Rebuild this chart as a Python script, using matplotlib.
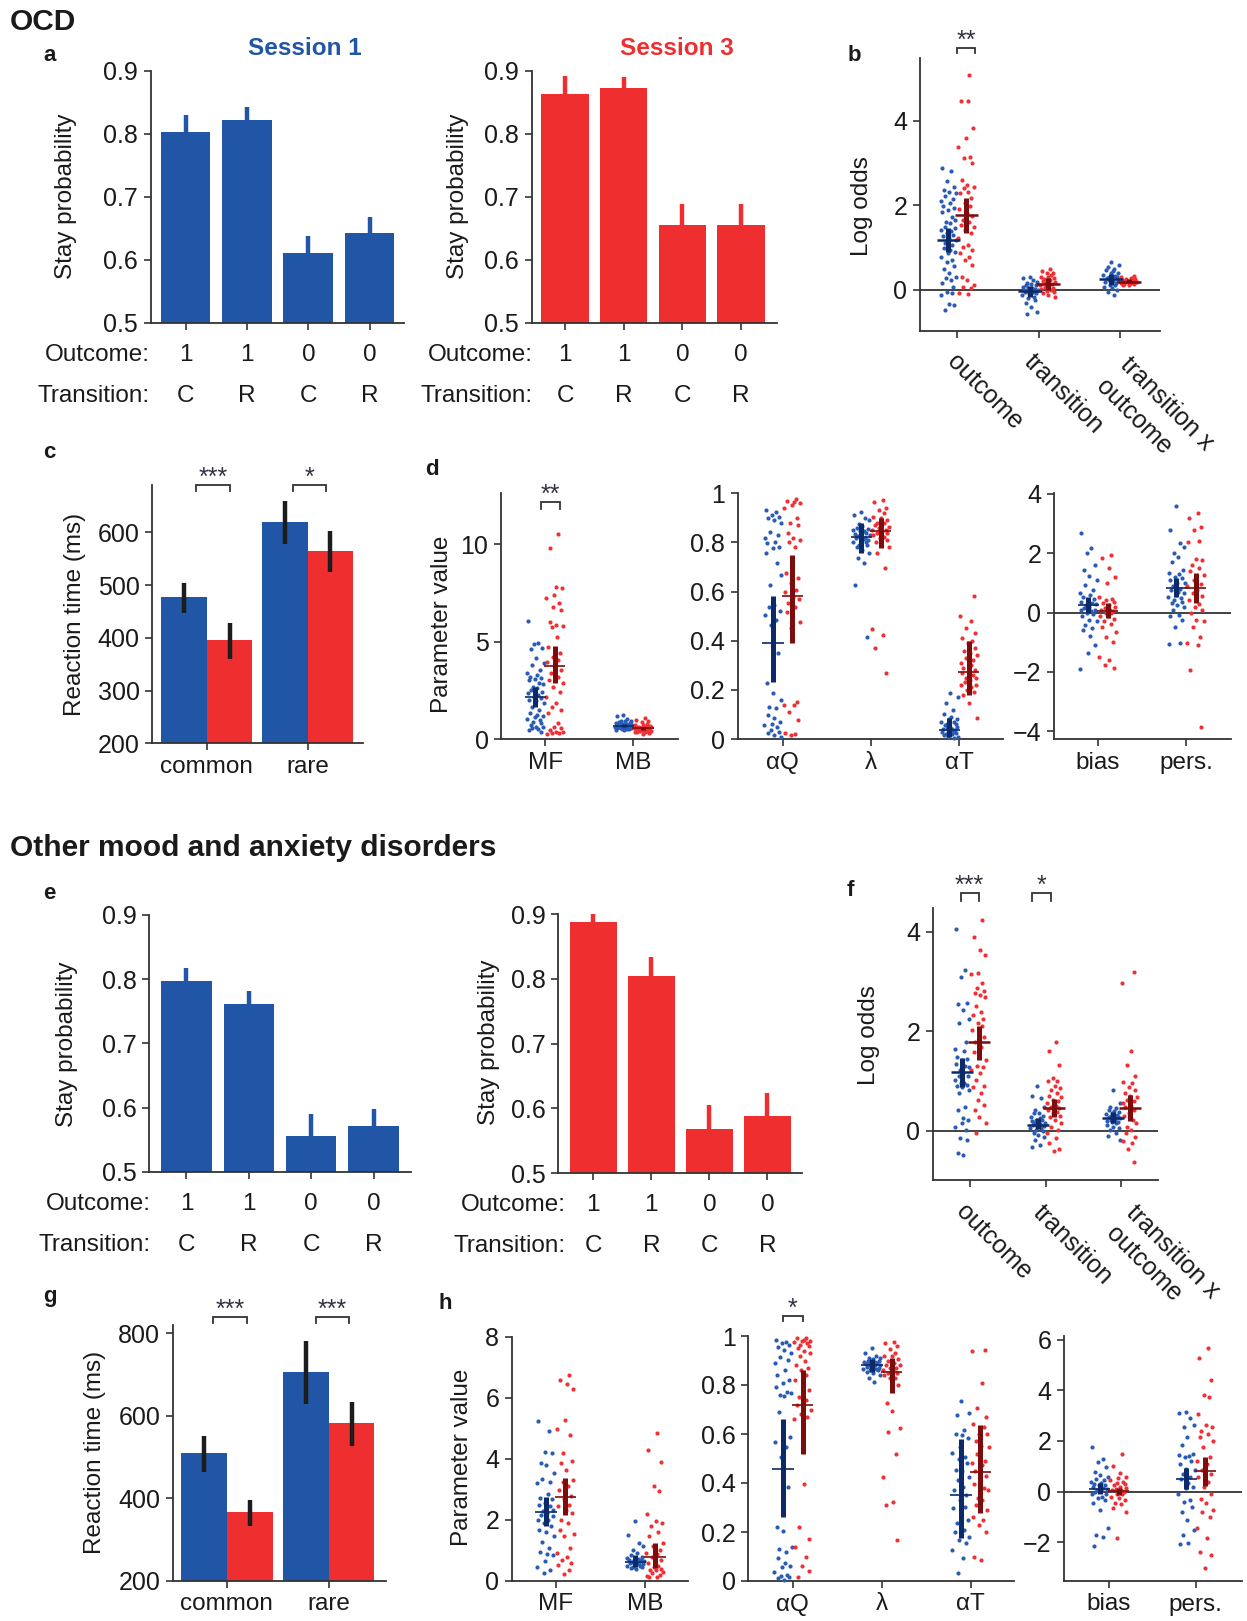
import matplotlib
matplotlib.use("Agg")
import matplotlib.pyplot as plt
from matplotlib.transforms import blended_transform_factory
from matplotlib.ticker import FormatStrFormatter

plt.rcParams['font.family'] = ['Liberation Sans', 'DejaVu Sans']

W, H = 1247, 1621
BLUE = '#2155a6'
RED = '#ee2e2f'
DOT_BLUE = '#2b5cb4'
DOT_RED = '#ef3034'
DBLUE = '#0c2a68'
DRED = '#7d0c0c'
AX_COL = '#333333'
TXT = '#1a1a1a'

# ---------------- data ----------------
OUTCOME = ['1', '1', '0', '0']
TRANSITION = ['C', 'R', 'C', 'R']

# stay probabilities (bar value, top of error bar)
a_s1 = [0.803, 0.821, 0.610, 0.642]
a_s1_hi = [0.829, 0.842, 0.638, 0.668]
a_s3 = [0.8635, 0.8725, 0.6545, 0.6545]
a_s3_hi = [0.892, 0.890, 0.688, 0.688]
e_s1 = [0.797, 0.761, 0.556, 0.571]
e_s1_hi = [0.817, 0.782, 0.590, 0.597]
e_s3 = [0.888, 0.804, 0.569, 0.588]
e_s3_hi = [0.900, 0.833, 0.605, 0.624]

# reaction times
RT_CATS = ['common', 'rare']
c_s1 = [476.6, 619.6]
c_s1_lo = [446.8, 579.0]
c_s1_hi = [505.0, 658.9]
c_s3 = [396.0, 565.2]
c_s3_lo = [360.8, 524.7]
c_s3_hi = [427.8, 601.9]
g_s1 = [509.5, 705.0]
g_s1_lo = [463.4, 629.1]
g_s1_hi = [552.3, 780.2]
g_s3 = [366.5, 582.2]
g_s3_lo = [333.3, 527.3]
g_s3_hi = [396.4, 634.7]

# logistic regression log odds
LOGODDS_CATS = ['outcome', 'transition', 'transition x', 'outcome']
b_s1_outcome = [2.88, 2.82, 2.58, 2.43, 2.36, 2.32, 2.28, 2.22, 2.14, 2.10, 2.05, 1.97, 1.93, 1.88, 1.83,
                1.73, 1.65, 1.61, 1.57, 1.49, 1.45, 1.42, 1.38, 1.34, 1.30, 1.26, 1.22, 1.18, 1.10, 1.05,
                0.98, 0.94, 0.90, 0.86, 0.78, 0.70, 0.66, 0.55, 0.48, 0.39, 0.31, 0.27, 0.23, 0.15, 0.07,
                -0.05, -0.09, -0.13, -0.34, -0.36, -0.48]
b_s3_outcome = [5.09, 4.48, 4.46, 3.83, 3.59, 3.39, 3.15, 3.11, 3.00, 2.60, 2.48, 2.44, 2.40, 2.32, 2.28,
                2.17, 2.05, 1.97, 1.90, 1.81, 1.75, 1.65, 1.60, 1.53, 1.48, 1.42, 1.34, 1.22, 1.06, 1.02,
                0.95, 0.86, 0.78, 0.70, 0.58, 0.31, 0.23, 0.11, 0.07, 0.05, -0.09, -0.10]
b_s1_transition = [0.31, 0.27, 0.22, 0.19, 0.15, 0.13, 0.11, 0.10, 0.07, 0.05, 0.03, 0.02, 0.00, -0.01, -0.02,
                   -0.03, -0.05, -0.06, -0.08, -0.09, -0.11, -0.13, -0.17, -0.20, -0.25, -0.32, -0.40, -0.52, -0.58]
b_s3_transition = [0.48, 0.43, 0.40, 0.39, 0.35, 0.31, 0.30, 0.28, 0.25, 0.23, 0.20, 0.18, 0.15, 0.14, 0.12,
                   0.10, 0.07, 0.05, 0.02, -0.01, -0.03, -0.05, -0.09, -0.13, -0.18]
b_s1_interaction = [0.66, 0.58, 0.54, 0.50, 0.47, 0.44, 0.40, 0.39, 0.35, 0.33, 0.31, 0.30, 0.28, 0.25, 0.23,
                    0.22, 0.20, 0.18, 0.15, 0.12, 0.10, 0.07, 0.05, -0.01, -0.05, -0.13]
b_s3_interaction = [0.32, 0.29, 0.27, 0.25, 0.24, 0.23, 0.22, 0.21, 0.21, 0.20, 0.19, 0.19, 0.18, 0.17, 0.16,
                    0.15, 0.14, 0.13, 0.12, 0.11]
b_mean_s1 = [1.18, -0.03, 0.24]
b_lo_s1 = [0.90, -0.18, 0.12]
b_hi_s1 = [1.45, 0.09, 0.38]
b_mean_s3 = [1.77, 0.13, 0.19]
b_lo_s3 = [1.33, 0.00, 0.15]
b_hi_s3 = [2.17, 0.27, 0.24]

f_s1_outcome = [4.05, 3.23, 3.08, 2.57, 2.55, 2.43, 2.24, 2.16, 1.79, 1.65, 1.60, 1.49, 1.45, 1.42, 1.35,
                1.30, 1.29, 1.22, 1.15, 1.10, 1.09, 1.02, 0.95, 0.95, 0.92, 0.90, 0.88, 0.82, 0.75, 0.48,
                0.42, 0.25, 0.21, 0.15, 0.08, 0.01, -0.15, -0.19, -0.44, -0.49]
f_s3_outcome = [4.23, 3.90, 3.64, 3.53, 3.16, 3.15, 2.97, 2.86, 2.80, 2.76, 2.72, 2.69, 2.50, 2.39, 2.32,
                2.24, 2.16, 2.10, 2.02, 1.95, 1.89, 1.79, 1.69, 1.59, 1.42, 1.30, 1.29, 1.22, 1.15, 1.02,
                0.90, 0.88, 0.75, 0.62, 0.52, 0.42, 0.28, 0.15, -0.05]
f_s1_transition = [0.90, 0.70, 0.65, 0.48, 0.42, 0.35, 0.35, 0.30, 0.28, 0.25, 0.22, 0.21, 0.20, 0.18, 0.16,
                   0.15, 0.14, 0.12, 0.11, 0.10, 0.08, 0.06, 0.05, 0.01, 0.00, -0.05, -0.08, -0.12, -0.19,
                   -0.29, -0.33]
f_s3_transition = [1.79, 1.60, 1.32, 1.06, 1.00, 0.99, 0.90, 0.85, 0.82, 0.75, 0.70, 0.68, 0.62, 0.60, 0.55,
                   0.50, 0.48, 0.45, 0.42, 0.38, 0.35, 0.30, 0.28, 0.21, 0.15, 0.08, 0.01, -0.05, -0.15,
                   -0.25, -0.36, -0.40]
f_s1_interaction = [0.82, 0.55, 0.48, 0.45, 0.42, 0.40, 0.38, 0.35, 0.33, 0.32, 0.30, 0.28, 0.28, 0.26, 0.25,
                    0.22, 0.21, 0.20, 0.18, 0.17, 0.15, 0.12, 0.08, 0.05, 0.01, -0.05, -0.10, -0.19]
f_s3_interaction = [3.18, 2.96, 1.60, 1.33, 1.10, 0.97, 0.95, 0.88, 0.82, 0.75, 0.70, 0.68, 0.62, 0.60, 0.55,
                    0.50, 0.48, 0.42, 0.35, 0.30, 0.21, 0.15, 0.08, 0.01, -0.05, -0.12, -0.20, -0.25,
                    -0.36, -0.62]
f_mean_s1 = [1.17, 0.12, 0.26]
f_lo_s1 = [0.88, 0.03, 0.15]
f_hi_s1 = [1.47, 0.25, 0.38]
f_mean_s3 = [1.78, 0.45, 0.45]
f_lo_s3 = [1.42, 0.28, 0.19]
f_hi_s3 = [2.11, 0.63, 0.72]

# model parameters: MF, MB | aQ, lambda, aT | bias, pers.
PARAM_CATS_1 = ['MF', 'MB']
PARAM_CATS_2 = ['αQ', 'λ', 'αT']
PARAM_CATS_3 = ['bias', 'pers.']

d_s1_mf = [6.06, 4.91, 4.88, 4.66, 4.61, 4.14, 3.92, 3.80, 3.54, 3.37, 3.29, 3.20, 3.12, 3.10, 3.03,
           2.86, 2.80, 2.69, 2.60, 2.52, 2.40, 2.35, 2.25, 2.17, 2.10, 2.00, 1.95, 1.83, 1.66, 1.49,
           1.32, 1.23, 1.20, 1.15, 1.05, 0.98, 0.89, 0.80, 0.72, 0.63, 0.60, 0.55, 0.50, 0.46, 0.38]
d_s3_mf = [10.51, 9.79, 7.83, 7.74, 7.40, 7.23, 6.97, 6.80, 6.63, 6.03, 5.86, 5.80, 5.77, 5.26, 4.74,
           4.40, 4.20, 4.06, 3.97, 3.80, 3.54, 3.37, 3.20, 3.03, 2.90, 2.69, 2.43, 2.17, 1.83, 1.66,
           1.50, 1.32, 0.80, 0.63, 0.55, 0.46, 0.38, 0.35, 0.30, 0.29, 0.25]
d_s1_mb = [1.25, 1.20, 1.05, 0.95, 0.90, 0.90, 0.85, 0.80, 0.80, 0.78, 0.75, 0.75, 0.72, 0.72, 0.70,
           0.70, 0.68, 0.68, 0.66, 0.66, 0.65, 0.64, 0.64, 0.62, 0.62, 0.60, 0.60, 0.58, 0.58, 0.55,
           0.55, 0.52, 0.50, 0.50, 0.48, 0.45]
d_s3_mb = [1.10, 1.00, 0.90, 0.85, 0.78, 0.72, 0.70, 0.68, 0.64, 0.62, 0.60, 0.60, 0.58, 0.56, 0.55,
           0.55, 0.52, 0.52, 0.50, 0.50, 0.48, 0.48, 0.45, 0.45, 0.42, 0.40, 0.40, 0.38, 0.35, 0.35,
           0.30, 0.25]
d_s1_aq = [0.932, 0.925, 0.910, 0.905, 0.898, 0.891, 0.880, 0.844, 0.830, 0.817, 0.800, 0.796, 0.783,
           0.776, 0.756, 0.715, 0.668, 0.627, 0.545, 0.539, 0.520, 0.505, 0.484, 0.464, 0.349, 0.227,
           0.186, 0.159, 0.132, 0.125, 0.098, 0.085, 0.071, 0.060, 0.057, 0.050, 0.037, 0.030, 0.023,
           0.015, 0.009]
d_s3_aq = [0.976, 0.970, 0.966, 0.960, 0.953, 0.939, 0.898, 0.878, 0.871, 0.837, 0.817, 0.810, 0.803,
           0.783, 0.674, 0.654, 0.634, 0.607, 0.600, 0.579, 0.570, 0.552, 0.539, 0.518, 0.478, 0.450,
           0.152, 0.140, 0.138, 0.111, 0.077, 0.023, 0.020, 0.016]
d_s1_lam = [0.925, 0.910, 0.900, 0.890, 0.875, 0.865, 0.860, 0.855, 0.850, 0.845, 0.845, 0.840, 0.835,
            0.830, 0.830, 0.825, 0.820, 0.820, 0.815, 0.810, 0.805, 0.800, 0.800, 0.790, 0.790, 0.780,
            0.770, 0.756, 0.735, 0.718, 0.627, 0.417]
d_s3_lam = [0.973, 0.966, 0.939, 0.932, 0.918, 0.905, 0.900, 0.891, 0.880, 0.878, 0.870, 0.864, 0.860,
            0.851, 0.850, 0.845, 0.840, 0.837, 0.830, 0.823, 0.820, 0.810, 0.800, 0.796, 0.783, 0.756,
            0.697, 0.446, 0.423, 0.369, 0.270]
d_s1_at = [0.186, 0.172, 0.145, 0.118, 0.100, 0.090, 0.080, 0.080, 0.070, 0.070, 0.060, 0.060, 0.055,
           0.050, 0.050, 0.045, 0.040, 0.040, 0.035, 0.035, 0.030, 0.030, 0.025, 0.025, 0.020, 0.020,
           0.015, 0.010, 0.010, 0.005]
d_s3_at = [0.580, 0.500, 0.480, 0.450, 0.430, 0.410, 0.400, 0.390, 0.370, 0.360, 0.350, 0.340, 0.330,
           0.320, 0.310, 0.300, 0.290, 0.280, 0.280, 0.270, 0.260, 0.250, 0.250, 0.240, 0.230, 0.220,
           0.220, 0.210, 0.200, 0.190, 0.180, 0.145, 0.084]
d_s1_bias = [2.67, 2.17, 2.00, 1.60, 1.44, 1.24, 1.10, 0.93, 0.76, 0.65, 0.60, 0.54, 0.45, 0.43, 0.35,
             0.31, 0.28, 0.25, 0.20, 0.15, 0.10, 0.09, 0.05, -0.02, -0.05, -0.13, -0.25, -0.30, -0.42,
             -0.53, -0.60, -0.80, -1.09, -1.37, -1.91]
d_s3_bias = [1.94, 1.83, 1.50, 1.21, 0.99, 0.54, 0.45, 0.43, 0.35, 0.31, 0.25, 0.20, 0.15, 0.10, 0.09,
             0.05, 0.00, -0.02, -0.10, -0.13, -0.20, -0.30, -0.40, -0.47, -0.64, -0.81, -0.98, -1.48,
             -1.60, -1.77, -1.88]
d_s1_pers = [3.60, 2.79, 2.34, 2.22, 2.00, 1.89, 1.72, 1.44, 1.33, 1.30, 1.21, 1.15, 1.10, 1.00, 0.99,
             0.88, 0.80, 0.76, 0.70, 0.65, 0.60, 0.54, 0.50, 0.43, 0.35, 0.31, 0.25, 0.20, 0.09, -0.08,
             -0.10, -0.25, -0.47, -1.03, -1.05]
d_s3_pers = [3.37, 3.18, 2.90, 2.80, 2.40, 2.39, 1.80, 1.78, 1.60, 1.50, 1.40, 1.25, 1.10, 0.95, 0.88,
             0.75, 0.65, 0.55, 0.43, 0.30, 0.20, 0.10, -0.02, -0.25, -0.30, -0.47, -0.81, -1.03, -1.10,
             -1.93, -3.84]
d_mean_s1 = [2.17, 0.67, 0.39, 0.824, 0.037, 0.26, 0.83]
d_lo_s1 = [1.66, 0.60, 0.23, 0.756, 0.010, -0.02, 0.54]
d_hi_s1 = [2.69, 0.75, 0.58, 0.878, 0.084, 0.54, 1.16]
d_mean_s3 = [3.77, 0.55, 0.58, 0.848, 0.274, 0.06, 0.83]
d_lo_s3 = [2.86, 0.48, 0.39, 0.776, 0.180, -0.19, 0.34]
d_hi_s3 = [4.78, 0.63, 0.75, 0.898, 0.400, 0.31, 1.33]

h_s1_mf = [5.24, 4.91, 4.23, 4.20, 3.87, 3.81, 3.54, 3.34, 3.23, 3.20, 2.86, 2.72, 2.70, 2.55, 2.50,
           2.44, 2.33, 2.30, 2.22, 2.15, 2.12, 2.01, 2.00, 1.90, 1.79, 1.68, 1.60, 1.46, 1.29, 1.07,
           0.96, 0.90, 0.85, 0.64, 0.47, 0.36, 0.25]
h_s3_mf = [6.74, 6.58, 6.46, 6.30, 5.27, 4.99, 4.77, 4.20, 3.93, 3.87, 3.65, 3.30, 3.23, 3.10, 2.99,
           2.78, 2.67, 2.50, 2.45, 2.34, 2.23, 2.01, 1.90, 1.68, 1.55, 1.46, 1.07, 0.91, 0.80, 0.69,
           0.60, 0.53, 0.36, 0.23]
h_s1_mb = [1.98, 1.51, 1.24, 1.13, 1.02, 0.91, 0.85, 0.80, 0.75, 0.72, 0.70, 0.69, 0.68, 0.65, 0.64,
           0.62, 0.60, 0.58, 0.57, 0.55, 0.52, 0.50, 0.48, 0.47, 0.45, 0.42, 0.40]
h_s3_mb = [4.85, 4.28, 3.89, 3.12, 2.94, 2.20, 1.98, 1.90, 1.79, 1.60, 1.46, 1.24, 1.13, 1.02, 0.91,
           0.90, 0.80, 0.69, 0.58, 0.50, 0.47, 0.40, 0.36, 0.35, 0.30, 0.25, 0.20, 0.15, 0.14, 0.12]
h_s1_aq = [0.984, 0.977, 0.970, 0.963, 0.956, 0.943, 0.929, 0.916, 0.902, 0.888, 0.861, 0.841, 0.820,
           0.810, 0.793, 0.773, 0.766, 0.760, 0.755, 0.688, 0.589, 0.569, 0.548, 0.507, 0.385, 0.219,
           0.205, 0.140, 0.130, 0.120, 0.093, 0.072, 0.060, 0.059, 0.038, 0.024, 0.020, 0.018, 0.011,
           0.004]
h_s3_aq = [0.990, 0.990, 0.985, 0.980, 0.980, 0.975, 0.970, 0.965, 0.960, 0.950, 0.940, 0.930, 0.920,
           0.900, 0.880, 0.870, 0.860, 0.840, 0.820, 0.800, 0.780, 0.750, 0.740, 0.720, 0.700, 0.680,
           0.670, 0.660, 0.395, 0.220, 0.170, 0.140, 0.100, 0.060, 0.040, 0.018]
h_s1_lam = [0.950, 0.930, 0.920, 0.910, 0.910, 0.905, 0.900, 0.900, 0.895, 0.895, 0.890, 0.890, 0.885,
            0.885, 0.880, 0.880, 0.880, 0.875, 0.875, 0.870, 0.870, 0.865, 0.865, 0.860, 0.860, 0.855,
            0.850, 0.840, 0.830, 0.814]
h_s3_lam = [0.977, 0.970, 0.960, 0.945, 0.930, 0.920, 0.920, 0.905, 0.900, 0.890, 0.880, 0.880, 0.870,
            0.870, 0.860, 0.860, 0.850, 0.850, 0.840, 0.830, 0.830, 0.800, 0.725, 0.694, 0.623, 0.610,
            0.520, 0.423, 0.324, 0.310, 0.167]
h_s1_at = [0.736, 0.684, 0.677, 0.616, 0.600, 0.596, 0.582, 0.548, 0.521, 0.507, 0.500, 0.480, 0.453,
           0.450, 0.426, 0.412, 0.385, 0.371, 0.351, 0.330, 0.303, 0.300, 0.276, 0.249, 0.235, 0.208,
           0.200, 0.181, 0.167, 0.154, 0.126, 0.092, 0.031]
h_s3_at = [0.943, 0.940, 0.810, 0.705, 0.670, 0.640, 0.630, 0.600, 0.600, 0.570, 0.550, 0.545, 0.520,
           0.490, 0.480, 0.475, 0.450, 0.430, 0.420, 0.395, 0.380, 0.370, 0.340, 0.330, 0.310, 0.290,
           0.260, 0.250, 0.230, 0.200, 0.100, 0.085]
h_s1_bias = [1.77, 1.31, 1.18, 0.98, 0.79, 0.66, 0.60, 0.52, 0.45, 0.39, 0.35, 0.30, 0.26, 0.25, 0.20,
             0.15, 0.10, 0.07, 0.05, 0.00, -0.07, -0.10, -0.20, -0.25, -0.33, -0.46, -0.72, -1.44,
             -1.70, -1.77, -2.14]
h_s3_bias = [1.47, 1.01, 0.72, 0.59, 0.55, 0.46, 0.40, 0.33, 0.30, 0.25, 0.20, 0.15, 0.10, 0.07, 0.05,
             0.00, -0.07, -0.10, -0.20, -0.25, -0.33, -0.46, -0.50, -0.66, -0.79, -1.83]
h_s1_pers = [3.15, 3.10, 2.92, 2.62, 2.56, 2.16, 1.83, 1.50, 1.45, 1.40, 1.37, 1.20, 1.11, 0.90, 0.85,
             0.70, 0.59, 0.50, 0.33, 0.20, 0.13, -0.07, -0.33, -0.40, -0.59, -0.79, -1.11, -1.50,
             -1.70, -2.03, -2.06]
h_s3_pers = [5.67, 5.28, 4.42, 3.80, 3.73, 3.05, 2.62, 2.56, 2.40, 2.29, 2.16, 2.00, 1.77, 1.38, 1.20,
             1.11, 0.85, 0.70, 0.59, 0.40, 0.20, -0.07, -0.30, -0.46, -0.72, -0.80, -0.98, -1.44,
             -1.83, -2.36, -2.49, -3.01]
h_mean_s1 = [2.25, 0.62, 0.457, 0.882, 0.352, 0.09, 0.52]
h_lo_s1 = [1.79, 0.47, 0.26, 0.854, 0.174, -0.09, 0.10]
h_hi_s1 = [2.75, 0.85, 0.66, 0.905, 0.580, 0.33, 0.92]
h_mean_s3 = [2.74, 0.77, 0.72, 0.853, 0.446, 0.03, 0.83]
h_lo_s3 = [2.15, 0.44, 0.52, 0.769, 0.279, -0.13, 0.22]
h_hi_s3 = [3.38, 1.24, 0.86, 0.909, 0.637, 0.16, 1.38]

# fixed horizontal jitter pattern for the point clouds (fraction of cloud half-width)
JIT = [-0.82, 0.35, -0.12, 0.71, -0.55, 0.08, 0.93, -0.37, 0.52, -0.94, 0.21, -0.66, 0.64, -0.03,
       -0.78, 0.44, 0.86, -0.29, 0.13, -0.48, 0.77, -0.89, 0.29, -0.19, 0.58, -0.71, 0.02, 0.96,
       -0.41, 0.38, -0.60, 0.17, 0.81, -0.08, -0.97, 0.49, -0.24, 0.69, -0.52, 0.11, 0.88, -0.33,
       0.26, -0.75, 0.61, -0.15, 0.41, -0.86, 0.05, 0.74, -0.45, 0.33, -0.63, 0.91, -0.21, 0.55,
       -0.99, 0.19, -0.36, 0.67]

OFF = 0.11   # offset of session clouds from the tick
JW = 0.10    # half width of a cloud
TICK_FS = 18

fig = plt.figure(figsize=(W / 100, H / 100), dpi=100)


def px_ax(x0, y0, x1, y1):
    return fig.add_axes([x0 / W, 1 - y1 / H, (x1 - x0) / W, (y1 - y0) / H])


def ftext(x, y, s, **kw):
    kw.setdefault('color', TXT)
    return fig.text(x / W, 1 - y / H, s, **kw)


def style(ax):
    for s in ['top', 'right']:
        ax.spines[s].set_visible(False)
    for s in ['left', 'bottom']:
        ax.spines[s].set_color(AX_COL)
        ax.spines[s].set_linewidth(1.3)
    ax.tick_params(direction='out', length=5, width=1.2, color=AX_COL, labelsize=TICK_FS,
                   pad=4, labelcolor=TXT)
    ax.tick_params(axis='x', labelsize=17.5, pad=4)
    ax.patch.set_alpha(0)


def stay_panel(ax, vals, hi, color, xlim, row_y, row_x):
    xs = list(range(len(vals)))
    ax.bar(xs, vals, width=0.81, color=color)
    ax.vlines(xs, vals, hi, color=color, lw=3.2)
    ax.set_ylim(0.5, 0.9)
    ax.set_xlim(*xlim)
    ax.set_yticks([0.5, 0.6, 0.7, 0.8, 0.9])
    ax.yaxis.set_major_formatter(FormatStrFormatter('%.1f'))
    ax.set_xticks(xs)
    ax.set_xticklabels([])
    style(ax)
    tr = blended_transform_factory(ax.transData, fig.transFigure)
    for i in xs:
        ax.text(i, 1 - row_y[0] / H, OUTCOME[i], transform=tr, ha='center', va='baseline',
                fontsize=17.5, color=TXT)
        ax.text(i, 1 - row_y[1] / H, TRANSITION[i], transform=tr, ha='center', va='baseline',
                fontsize=17.5, color=TXT)
    ftext(row_x, row_y[0], 'Outcome:', ha='right', va='baseline', fontsize=17.5)
    ftext(row_x, row_y[1], 'Transition:', ha='right', va='baseline', fontsize=17.5)


def rt_panel(ax, s1, s1lo, s1hi, s3, s3lo, s3hi, ylim, yticks, xlim):
    xs = [0, 1]
    ax.bar([x - 0.225 for x in xs], s1, width=0.45, color=BLUE)
    ax.bar([x + 0.225 for x in xs], s3, width=0.45, color=RED)
    ax.vlines([x - 0.225 for x in xs], s1lo, s1hi, color='#1c1c1c', lw=3.2)
    ax.vlines([x + 0.225 for x in xs], s3lo, s3hi, color='#1c1c1c', lw=3.2)
    ax.set_ylim(*ylim)
    ax.set_xlim(*xlim)
    ax.set_yticks(yticks)
    ax.set_xticks(xs)
    ax.set_xticklabels(RT_CATS)
    style(ax)


def cloud(ax, xc, vals, color, k):
    xs = [xc + JW * JIT[(i + k) % len(JIT)] for i in range(len(vals))]
    ax.scatter(xs, vals, s=9, color=color, linewidths=0, zorder=3, clip_on=False)


def cross(ax, xc, m, lo, hi, color, hw, hlw):
    ax.vlines(xc, lo, hi, color=color, lw=3.6, zorder=4)
    ax.hlines(m, xc - hw, xc + hw, color=color, lw=hlw, zorder=4)


def scatter_panel(ax, s1, s3, m1, l1, h1, m3, l3, h3, hw=0.12, hlw=1.2):
    for i in range(len(s1)):
        cloud(ax, i - OFF, s1[i], DOT_BLUE, i * 13)
        cloud(ax, i + OFF, s3[i], DOT_RED, i * 13 + 29)
    for i in range(len(s1)):
        cross(ax, i - OFF, m1[i], l1[i], h1[i], DBLUE, hw, hlw)
        cross(ax, i + OFF, m3[i], l3[i], h3[i], DRED, hw, hlw)
    ax.set_xticks(list(range(len(s1))))


def bracket(ax, x0, x1, y_top, y_leg, stars):
    ax.plot([x0, x0, x1, x1], [y_leg, y_top, y_top, y_leg], color=AX_COL, lw=1.3,
            clip_on=False, solid_joinstyle='miter')
    ax.text((x0 + x1) / 2, y_top, stars, ha='center', va='baseline', fontsize=18,
            color='#333340', clip_on=False)


# ---------------- titles ----------------
ftext(10, 30, 'OCD', fontsize=21.5, fontweight='bold', ha='left', va='baseline')
ftext(10, 856, 'Other mood and anxiety disorders', fontsize=21.5, fontweight='bold',
      ha='left', va='baseline')
for lab, x, y in [('a', 43, 61), ('b', 848, 61), ('c', 43, 458), ('d', 425, 475),
                  ('e', 43, 899), ('f', 847, 896), ('g', 43, 1302), ('h', 438, 1309)]:
    ftext(x, y, lab, fontsize=16, fontweight='bold', ha='left', va='baseline')
ftext(305, 55, 'Session 1', fontsize=17.5, fontweight='bold', color=BLUE, ha='center', va='baseline')
ftext(677, 55, 'Session 3', fontsize=17.5, fontweight='bold', color=RED, ha='center', va='baseline')

# ---------------- panel a ----------------
ax = px_ax(150.7, 70.7, 404, 322.7)
stay_panel(ax, a_s1, a_s1_hi, BLUE, (-0.57, 3.56), (361, 402), 150)
ftext(66, 196.7, 'Stay probability', rotation=90, ha='center', va='center', fontsize=17.5)
ax = px_ax(531.7, 70.7, 776.7, 322.7)
stay_panel(ax, a_s3, a_s3_hi, RED, (-0.57, 3.61), (361, 402), 533)
ftext(458, 196.7, 'Stay probability', rotation=90, ha='center', va='center', fontsize=17.5)

# ---------------- panel b ----------------
ax = px_ax(920, 58.3, 1160, 331)
scatter_panel(ax, [b_s1_outcome, b_s1_transition, b_s1_interaction],
              [b_s3_outcome, b_s3_transition, b_s3_interaction],
              b_mean_s1, b_lo_s1, b_hi_s1, b_mean_s3, b_lo_s3, b_hi_s3, hw=0.145, hlw=1.8)
ax.axhline(0, color=AX_COL, lw=1.3, zorder=1)
ax.set_ylim(-0.98, 5.48)
ax.set_xlim(-0.46, 2.49)
ax.set_yticks([0, 2, 4])
ax.set_xticklabels([])
style(ax)
bracket(ax, -0.01, 0.22, 5.73, 5.61, '**')
ftext(862, 206, 'Log odds', rotation=90, ha='center', va='center', fontsize=17.5)
for (x, y), s in zip([(946, 363), (1023, 363), (1119, 366), (1095, 388)], LOGODDS_CATS):
    ftext(x, y, s, rotation=-45, rotation_mode='anchor', ha='left', va='baseline', fontsize=18)

# ---------------- panel c ----------------
ax = px_ax(152.3, 485, 363.3, 743.3)
rt_panel(ax, c_s1, c_s1_lo, c_s1_hi, c_s3, c_s3_lo, c_s3_hi, (200, 690), [200, 300, 400, 500, 600],
         (-0.54, 1.55))
bracket(ax, -0.11, 0.23, 689.7, 678.3, '***')
bracket(ax, 0.85, 1.18, 689.7, 678.3, '*')
ftext(75, 614, 'Reaction time (ms)', rotation=90, ha='center', va='center', fontsize=17.5)

# ---------------- panel d ----------------
ax = px_ax(501, 493.3, 678.3, 739)
scatter_panel(ax, [d_s1_mf, d_s1_mb], [d_s3_mf, d_s3_mb],
              d_mean_s1[0:2], d_lo_s1[0:2], d_hi_s1[0:2], d_mean_s3[0:2], d_lo_s3[0:2], d_hi_s3[0:2])
ax.set_ylim(0, 12.62)
ax.set_xlim(-0.5, 1.51)
ax.set_yticks([0, 5, 10])
ax.set_xticklabels(PARAM_CATS_1)
style(ax)
bracket(ax, -0.05, 0.17, 12.19, 11.81, '**')
ftext(442.5, 624, 'Parameter value', rotation=90, ha='center', va='center', fontsize=17.5)

ax = px_ax(737.7, 493.3, 1003.3, 739)
scatter_panel(ax, [d_s1_aq, d_s1_lam, d_s1_at], [d_s3_aq, d_s3_lam, d_s3_at],
              d_mean_s1[2:5], d_lo_s1[2:5], d_hi_s1[2:5], d_mean_s3[2:5], d_lo_s3[2:5], d_hi_s3[2:5])
ax.set_ylim(0, 1)
ax.set_xlim(-0.51, 2.5)
ax.set_yticks([0, 0.2, 0.4, 0.6, 0.8, 1])
ax.yaxis.set_major_formatter(FormatStrFormatter('%g'))
ax.set_xticklabels(PARAM_CATS_2)
style(ax)

ax = px_ax(1054, 493.3, 1231, 739)
scatter_panel(ax, [d_s1_bias, d_s1_pers], [d_s3_bias, d_s3_pers],
              d_mean_s1[5:], d_lo_s1[5:], d_hi_s1[5:], d_mean_s3[5:], d_lo_s3[5:], d_hi_s3[5:])
ax.axhline(0, color=AX_COL, lw=1.3, zorder=1)
ax.set_ylim(-4.26, 4.02)
ax.set_xlim(-0.5, 1.51)
ax.set_yticks([-4, -2, 0, 2, 4])
ax.set_xticklabels(PARAM_CATS_3)
style(ax)

# ---------------- panel e ----------------
ax = px_ax(149, 915, 411, 1171.7)
stay_panel(ax, e_s1, e_s1_hi, BLUE, (-0.6, 3.6), (1210, 1251), 151)
ftext(67.5, 1044, 'Stay probability', rotation=90, ha='center', va='center', fontsize=17.5)
ax = px_ax(558.3, 914, 802.3, 1173.3)
stay_panel(ax, e_s3, e_s3_hi, RED, (-0.6, 3.6), (1211, 1252), 566)
ftext(489, 1042, 'Stay probability', rotation=90, ha='center', va='center', fontsize=17.5)

# ---------------- panel f ----------------
ax = px_ax(932.7, 907.7, 1158.3, 1180)
scatter_panel(ax, [f_s1_outcome, f_s1_transition, f_s1_interaction],
              [f_s3_outcome, f_s3_transition, f_s3_interaction],
              f_mean_s1, f_lo_s1, f_hi_s1, f_mean_s3, f_lo_s3, f_hi_s3, hw=0.145, hlw=1.8)
ax.axhline(0, color=AX_COL, lw=1.3, zorder=1)
ax.set_ylim(-0.99, 4.48)
ax.set_xlim(-0.5, 2.49)
ax.set_yticks([0, 2, 4])
ax.set_xticklabels([])
style(ax)
bracket(ax, -0.13, 0.11, 4.77, 4.62, '***')
bracket(ax, 0.81, 1.07, 4.77, 4.62, '*')
ftext(869, 1035, 'Log odds', rotation=90, ha='center', va='center', fontsize=17.5)
for (x, y), s in zip([(955, 1213), (1032, 1214), (1125, 1214), (1105, 1235)], LOGODDS_CATS):
    ftext(x, y, s, rotation=-45, rotation_mode='anchor', ha='left', va='baseline', fontsize=18)

# ---------------- panel g ----------------
ax = px_ax(172.7, 1325, 385.7, 1581)
rt_panel(ax, g_s1, g_s1_lo, g_s1_hi, g_s3, g_s3_lo, g_s3_hi, (200, 820), [200, 400, 600, 800],
         (-0.53, 1.56))
bracket(ax, -0.13, 0.20, 840, 825, '***')
bracket(ax, 0.88, 1.20, 840, 825, '***')
ftext(95, 1452, 'Reaction time (ms)', rotation=90, ha='center', va='center', fontsize=17.5)

# ---------------- panel h ----------------
ax = px_ax(511.7, 1336.7, 688.3, 1581)
scatter_panel(ax, [h_s1_mf, h_s1_mb], [h_s3_mf, h_s3_mb],
              h_mean_s1[0:2], h_lo_s1[0:2], h_hi_s1[0:2], h_mean_s3[0:2], h_lo_s3[0:2], h_hi_s3[0:2])
ax.set_ylim(0, 8)
ax.set_xlim(-0.49, 1.48)
ax.set_yticks([0, 2, 4, 6, 8])
ax.set_xticklabels(PARAM_CATS_1)
style(ax)
ftext(461.7, 1457, 'Parameter value', rotation=90, ha='center', va='center', fontsize=17.5)

ax = px_ax(748.3, 1336, 1014.3, 1581)
scatter_panel(ax, [h_s1_aq, h_s1_lam, h_s1_at], [h_s3_aq, h_s3_lam, h_s3_at],
              h_mean_s1[2:5], h_lo_s1[2:5], h_hi_s1[2:5], h_mean_s3[2:5], h_lo_s3[2:5], h_hi_s3[2:5])
ax.set_ylim(0, 1)
ax.set_xlim(-0.5, 2.49)
ax.set_yticks([0, 0.2, 0.4, 0.6, 0.8, 1])
ax.yaxis.set_major_formatter(FormatStrFormatter('%g'))
ax.set_xticklabels(PARAM_CATS_2)
style(ax)
bracket(ax, -0.11, 0.11, 1.082, 1.061, '*')

ax = px_ax(1064, 1336, 1241.7, 1581)
scatter_panel(ax, [h_s1_bias, h_s1_pers], [h_s3_bias, h_s3_pers],
              h_mean_s1[5:], h_lo_s1[5:], h_hi_s1[5:], h_mean_s3[5:], h_lo_s3[5:], h_hi_s3[5:])
ax.axhline(0, color=AX_COL, lw=1.3, zorder=1)
ax.set_ylim(-3.52, 6.14)
ax.set_xlim(-0.52, 1.53)
ax.set_yticks([-2, 0, 2, 4, 6])
ax.set_xticklabels(PARAM_CATS_3)
style(ax)

fig.savefig('out.png', dpi=100)
